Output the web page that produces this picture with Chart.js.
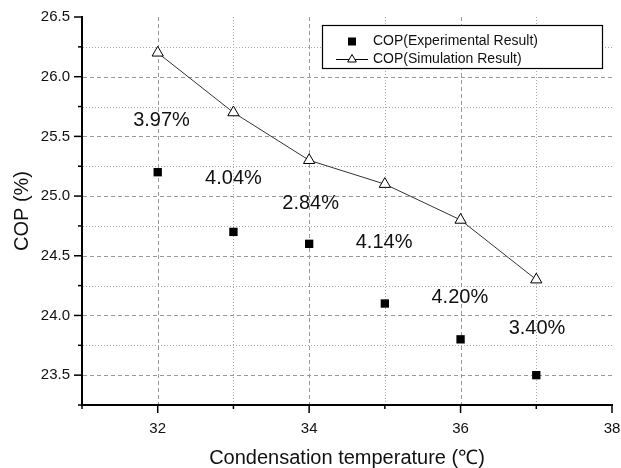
<!DOCTYPE html>
<html lang="en">
<head>
<meta charset="UTF-8">
<title>COP vs Condensation temperature</title>
<script src="https://cdn.jsdelivr.net/npm/chart.js"></script>
<style>
  html, body { margin: 0; padding: 0; background: #fff; }
</style>
</head>
<body>
<canvas id="copChart" width="621" height="468"></canvas>
<script>
// data
const temps = [32, 33, 34, 35, 36, 37];
const copExperimental = [25.2, 24.7, 24.6, 24.1, 23.8, 23.5];
const copSimulation = [26.2, 25.7, 25.3, 25.1, 24.8, 24.3];
const errorLabels = ['3.97%', '4.04%', '2.84%', '4.14%', '4.20%', '3.40%'];
const errorLabelX = [32.05, 33.0, 34.02, 34.99, 35.99, 37.01];
const errorLabelY = [25.63, 25.15, 24.94, 24.61, 24.15, 23.89];

const FONT = '"Liberation Sans", Arial, sans-serif';

function isMajorY(v) { return Math.abs(v * 2 - Math.round(v * 2)) < 1e-6; }
function isMajorX(v) { return Math.round(v) % 2 === 0; }

// dashed / dotted grid, like the Origin plot
const gridPlugin = {
    id: 'originGrid',
    beforeDatasetsDraw(chart) {
        const ctx = chart.ctx;
        const area = chart.chartArea;
        const xs = chart.scales.x, ys = chart.scales.y;
        ctx.save();
        ctx.lineWidth = 1;
        ys.ticks.forEach(t => {
            if (t.value <= ys.min + 1e-6 || t.value >= ys.max - 1e-6) return;
            const y = Math.round(ys.getPixelForValue(t.value)) + 0.5;
            const major = isMajorY(t.value);
            ctx.strokeStyle = major ? '#9a9a9a' : '#a8a8a8';
            ctx.setLineDash(major ? [4, 3] : [1, 2]);
            ctx.beginPath();
            ctx.moveTo(area.left + 1, y);
            ctx.lineTo(area.right, y);
            ctx.stroke();
        });
        xs.ticks.forEach(t => {
            if (t.value <= xs.min + 1e-6 || t.value >= xs.max - 1e-6) return;
            const x = Math.round(xs.getPixelForValue(t.value)) + 0.5;
            const major = isMajorX(t.value);
            ctx.strokeStyle = major ? '#9a9a9a' : '#a8a8a8';
            ctx.setLineDash(major ? [4, 3] : [1, 2]);
            ctx.beginPath();
            ctx.moveTo(x, area.top);
            ctx.lineTo(x, area.bottom - 1);
            ctx.stroke();
        });
        ctx.restore();
    },
    afterDraw(chart) {
        // outward tick marks, long for major, short for minor
        const ctx = chart.ctx;
        const area = chart.chartArea;
        const xs = chart.scales.x, ys = chart.scales.y;
        ctx.save();
        ctx.strokeStyle = '#000';
        ctx.lineWidth = 1.5;
        ys.ticks.forEach(t => {
            const y = ys.getPixelForValue(t.value);
            const len = isMajorY(t.value) ? 8 : 4;
            ctx.beginPath();
            ctx.moveTo(area.left - len, y);
            ctx.lineTo(area.left, y);
            ctx.stroke();
        });
        xs.ticks.forEach(t => {
            const x = xs.getPixelForValue(t.value);
            const len = isMajorX(t.value) ? 8 : 4;
            ctx.beginPath();
            ctx.moveTo(x, area.bottom);
            ctx.lineTo(x, area.bottom + len);
            ctx.stroke();
        });
        ctx.restore();
    }
};

// percentage labels between the two series
const errorLabelPlugin = {
    id: 'errorLabels',
    afterDatasetsDraw(chart) {
        const ctx = chart.ctx;
        const xs = chart.scales.x, ys = chart.scales.y;
        ctx.save();
        ctx.font = '20px ' + FONT;
        ctx.fillStyle = '#111';
        ctx.textAlign = 'center';
        ctx.textBaseline = 'middle';
        errorLabels.forEach((txt, i) => {
            ctx.fillText(txt, xs.getPixelForValue(errorLabelX[i]), ys.getPixelForValue(errorLabelY[i]));
        });
        ctx.restore();
    }
};

// boxed legend inside the plot, top right
const boxLegendPlugin = {
    id: 'boxLegend',
    afterDraw(chart) {
        const ctx = chart.ctx;
        const left = 322, top = 25, w = 280, h = 43;
        ctx.save();
        ctx.fillStyle = '#fff';
        ctx.fillRect(left, top, w, h);
        ctx.strokeStyle = '#000';
        ctx.lineWidth = 1.2;
        ctx.strokeRect(left + 0.5, top + 0.5, w, h);

        const cx = 352;
        const row1 = 41.5, row2 = 59.5;
        // square marker
        ctx.fillStyle = '#000';
        ctx.fillRect(cx - 4, row1 - 4, 8, 8);
        // line + triangle marker
        ctx.lineWidth = 1;
        ctx.beginPath();
        ctx.moveTo(336, row2);
        ctx.lineTo(368, row2);
        ctx.stroke();
        const r = 5;
        ctx.beginPath();
        ctx.moveTo(cx, row2 - r);
        ctx.lineTo(cx + r * 0.866, row2 + r / 2);
        ctx.lineTo(cx - r * 0.866, row2 + r / 2);
        ctx.closePath();
        ctx.fillStyle = '#fff';
        ctx.fill();
        ctx.stroke();

        ctx.fillStyle = '#111';
        ctx.font = '14px ' + FONT;
        ctx.textAlign = 'left';
        ctx.textBaseline = 'middle';
        ctx.fillText('COP(Experimental Result)', 373, row1);
        ctx.fillText('COP(Simulation Result)', 373, row2);
        ctx.restore();
    }
};

const ctx = document.getElementById('copChart').getContext('2d');
new Chart(ctx, {
    type: 'scatter',
    data: {
        datasets: [
            {
                label: 'COP(Experimental Result)',
                data: temps.map((t, i) => ({ x: t, y: copExperimental[i] })),
                pointStyle: 'rect',
                pointRadius: 5.9,
                pointBackgroundColor: '#000',
                pointBorderColor: '#000',
                pointBorderWidth: 0,
                showLine: false
            },
            {
                label: 'COP(Simulation Result)',
                data: temps.map((t, i) => ({ x: t, y: copSimulation[i] })),
                pointStyle: 'triangle',
                pointRadius: 6.5,
                pointBackgroundColor: '#fff',
                pointBorderColor: '#000',
                pointBorderWidth: 1,
                borderColor: '#333',
                borderWidth: 1,
                showLine: true
            }
        ]
    },
    options: {
        responsive: false,
        animation: false,
        devicePixelRatio: 1,
        layout: { padding: { top: 17, right: 9, left: 0, bottom: 0 } },
        plugins: {
            legend: { display: false },
            tooltip: { enabled: false }
        },
        scales: {
            x: {
                type: 'linear',
                min: 31,
                max: 38,
                afterFit(scale) {
                    scale.height = 63;
                    scale.paddingLeft = 0;
                    scale.paddingRight = 0;
                },
                grid: { color: 'transparent', drawTicks: false, tickLength: 0 },
                border: { display: true, color: '#000', width: 2 },
                ticks: {
                    stepSize: 1,
                    padding: 15,
                    maxRotation: 0,
                    color: '#111',
                    font: { family: FONT, size: 15 },
                    callback: v => (isMajorX(v) ? String(v) : '')
                },
                title: {
                    display: true,
                    text: 'Condensation temperature (℃)',
                    color: '#111',
                    font: { family: FONT, size: 20, lineHeight: 1 },
                    padding: { top: 0, bottom: 0 }
                }
            },
            y: {
                min: 23.25,
                max: 26.5,
                afterFit(scale) {
                    scale.width = 82;
                    scale.paddingTop = 0;
                    scale.paddingBottom = 0;
                },
                grid: { color: 'transparent', drawTicks: false, tickLength: 0 },
                border: { display: true, color: '#000', width: 2 },
                ticks: {
                    stepSize: 0.25,
                    padding: 12,
                    color: '#111',
                    font: { family: FONT, size: 15 },
                    callback: v => (isMajorY(v) ? v.toFixed(1) : '')
                },
                title: {
                    display: true,
                    text: 'COP (%)',
                    color: '#111',
                    font: { family: FONT, size: 20, lineHeight: 1 },
                    padding: { top: 12, bottom: 0 }
                }
            }
        }
    },
    plugins: [gridPlugin, errorLabelPlugin, boxLegendPlugin]
});
</script>
</body>
</html>
